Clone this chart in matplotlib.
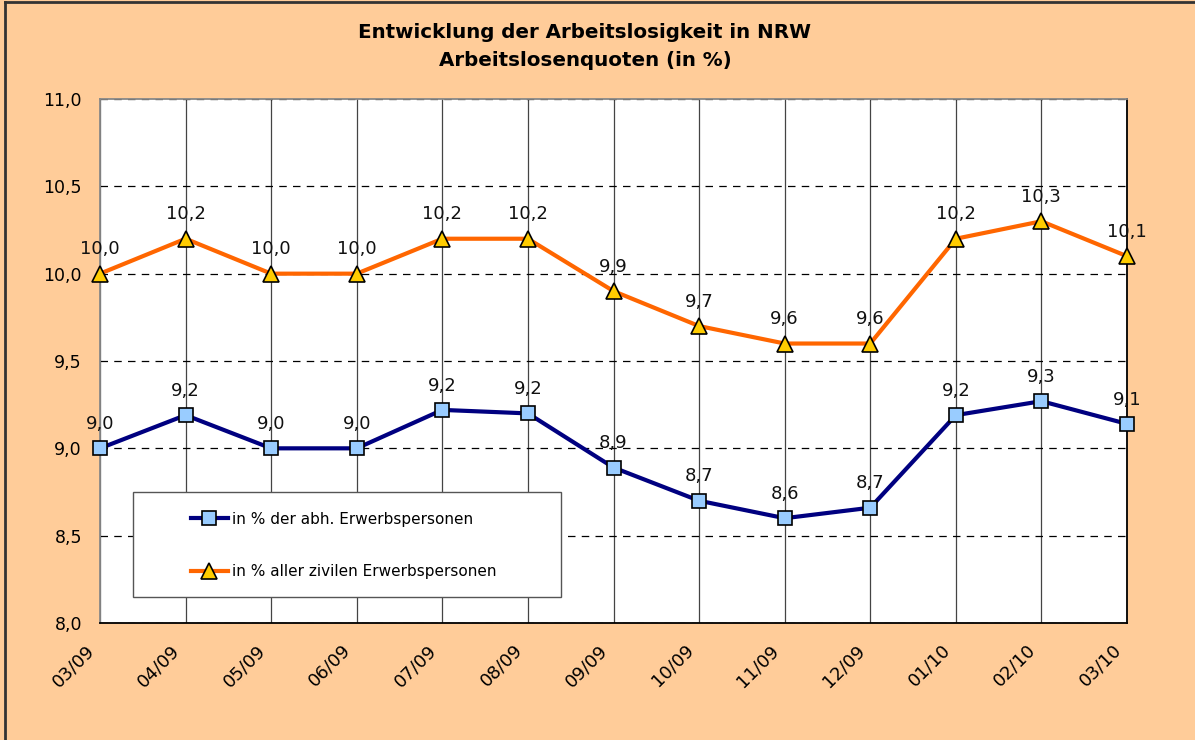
import matplotlib.pyplot as plt
import matplotlib.transforms as mtransforms
from matplotlib.lines import Line2D
from matplotlib.patches import Rectangle

months = ['03/09', '04/09', '05/09', '06/09', '07/09', '08/09', '09/09',
          '10/09', '11/09', '12/09', '01/10', '02/10', '03/10']
abh = [9.0, 9.19, 9.0, 9.0, 9.22, 9.2, 8.89, 8.7, 8.6, 8.66, 9.19, 9.27, 9.14]
zivil = [10.0, 10.2, 10.0, 10.0, 10.2, 10.2, 9.9, 9.7, 9.6, 9.6, 10.2, 10.3, 10.1]
yticks = [8, 8.5, 9, 9.5, 10, 10.5, 11]

bg = '#FFCC99'
fig = plt.figure(figsize=(11.95, 7.40), dpi=100, facecolor=bg)
ax = fig.add_axes([100/1195, 1 - 623/740, 1027/1195, 524/740])
ax.set_facecolor('white')

x = list(range(len(months)))
ax.plot(x, abh, '-s', color='#000080', lw=3, ms=10, mfc='#99CCFF', mec='black',
        mew=1.2, label='in % der abh. Erwerbspersonen', zorder=4, clip_on=False)
ax.plot(x, zivil, '-^', color='#FF6600', lw=3, ms=11, mfc='#FFCC00', mec='black',
        mew=1.2, label='in % aller zivilen Erwerbspersonen', zorder=4, clip_on=False)

# data labels above the points
for series in (abh, zivil):
    for xi, v in zip(x, series):
        ax.annotate(f'{v:.1f}'.replace('.', ','), (xi, v), xytext=(0, 11),
                    textcoords='offset points', ha='center', va='bottom',
                    fontsize=13, color='#111111', zorder=6)

ax.set_xlim(0, 12)
ax.set_ylim(8, 11)
ax.set_yticks(yticks)
ax.set_yticklabels([f'{v:.1f}'.replace('.', ',') for v in yticks], fontsize=12.5)
ax.set_xticks(x)
ax.set_xticklabels(months, rotation=45, ha='right', rotation_mode='anchor', fontsize=13)
ax.tick_params(length=0)
ax.tick_params(axis='y', pad=13)
ax.tick_params(axis='x', pad=13)
shift = mtransforms.ScaledTranslation(-15/100, 0, fig.dpi_scale_trans)
for lab in ax.get_xticklabels():
    lab.set_transform(lab.get_transform() + shift)

ax.xaxis.grid(True, color='#444444', lw=0.9)
ax.yaxis.grid(True, color='black', lw=0.9, ls=(0, (6, 5)))
ax.set_axisbelow(True)
ax.spines['top'].set_color('#888888')
ax.spines['left'].set_color('#888888')
ax.spines['bottom'].set_color('black')
ax.spines['right'].set_color('black')
for s in ax.spines.values():
    s.set_linewidth(1.3)

# legend box drawn by hand, legend centred in it
bx0, by0 = 33/1027, (623 - 597)/524
bw, bh = 428/1027, 105/524
ax.add_patch(Rectangle((bx0, by0), bw, bh, transform=ax.transAxes, facecolor='white',
                       edgecolor='#555555', lw=1, zorder=5))
leg = ax.legend(loc='center', bbox_to_anchor=(bx0 + bw/2 - 3/1027, by0 + bh/2 - 1/524),
                fontsize=11, frameon=False, labelspacing=2.45, handlelength=2.4,
                handletextpad=0.3, borderaxespad=0, borderpad=0)
leg.set_zorder(6)

fig.text(585/1195, 1 - 32/740, 'Entwicklung der Arbeitslosigkeit in NRW',
         ha='center', va='center', fontsize=14.3, fontweight='bold')
fig.text(585/1195, 1 - 60/740, 'Arbeitslosenquoten (in %)',
         ha='center', va='center', fontsize=14.3, fontweight='bold')

fig.add_artist(Line2D([5/1195, 5/1195], [0, 1 - 2/740], transform=fig.transFigure,
                      color='#333333', lw=2))
fig.add_artist(Line2D([5/1195, 1], [1 - 2/740, 1 - 2/740], transform=fig.transFigure,
                      color='#333333', lw=2))

fig.savefig('out.png', dpi=100, facecolor=bg)
